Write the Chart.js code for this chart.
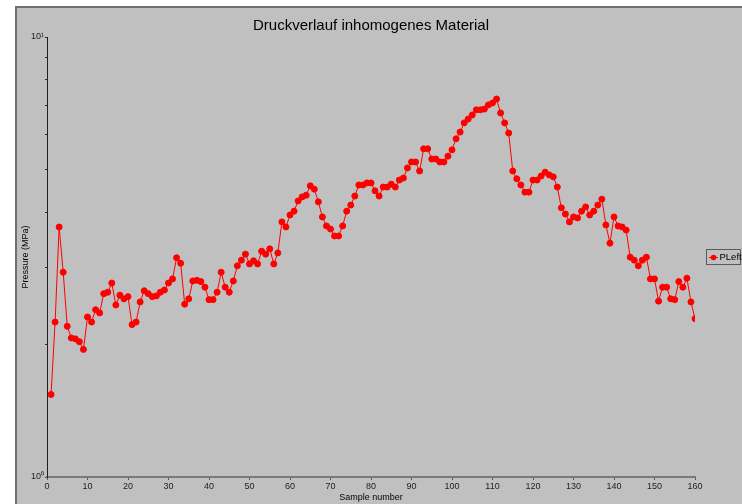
<!DOCTYPE html>
<html>
<head>
<meta charset="utf-8">
<script src="https://cdn.jsdelivr.net/npm/chart.js@4.4.1/dist/chart.umd.min.js"></script>
<style>
html,body{margin:0;padding:0;background:#fff;}
#wrap{width:742px;height:504px;}
</style>
</head>
<body>
<div id="wrap"><canvas id="grafico" width="742" height="504"></canvas></div>
<script>
const titulo = "Druckverlauf inhomogenes Material";
const serieNome = "PLeft";
const eixoX = "Sample number";
const eixoY = "Pressure (MPa)";

// sample numbers 1..160
const amostras = Array.from({length:160}, (_, i) => i + 1);

const pressao = [
1.54,2.25,3.70,2.92,2.20,2.07,2.06,2.03,1.95,2.31,
2.25,2.40,2.36,2.61,2.63,2.76,2.46,2.59,2.54,2.57,
2.22,2.25,2.50,2.65,2.61,2.57,2.58,2.63,2.66,2.76,
2.82,3.15,3.06,2.47,2.54,2.79,2.80,2.78,2.70,2.53,
2.53,2.63,2.92,2.70,2.63,2.79,3.02,3.11,3.21,3.05,
3.10,3.05,3.26,3.21,3.30,3.05,3.23,3.80,3.70,3.94,
4.02,4.24,4.33,4.37,4.59,4.51,4.22,3.90,3.72,3.66,
3.53,3.53,3.72,4.02,4.15,4.35,4.61,4.61,4.66,4.66,
4.47,4.35,4.56,4.56,4.63,4.56,4.73,4.78,5.04,5.20,
5.20,4.96,5.57,5.57,5.28,5.28,5.20,5.20,5.36,5.54,
5.87,6.08,6.38,6.51,6.65,6.83,6.83,6.86,7.01,7.08,
7.23,6.72,6.38,6.05,4.96,4.76,4.61,4.44,4.44,4.73,
4.73,4.83,4.93,4.86,4.81,4.56,4.09,3.96,3.80,3.90,
3.88,4.02,4.11,3.94,4.02,4.15,4.28,3.74,3.40,3.90,
3.72,3.70,3.64,3.16,3.11,3.02,3.11,3.16,2.82,2.82,
2.51,2.70,2.70,2.54,2.53,2.78,2.70,2.83,2.50,2.29
];

const ticksX = [0,10,20,30,40,50,60,70,80,90,100,110,120,130,140,150,160];
const ticksY = [1,2,3,4,5,6,7,8,9,10];

const fonte = "'Liberation Sans', Arial, sans-serif";
const fundo = "#c0c0c0";
const vermelho = "#ff0000";

const pontos = amostras.map((a, i) => ({x: a, y: pressao[i]}));

// fundo, moldura, titulo e legenda
const moldura = {
  id: "moldura",
  beforeDraw(chart){
    const c = chart.ctx;
    c.save();
    c.fillStyle = "#ffffff";
    c.fillRect(0, 0, chart.width, chart.height);
    c.fillStyle = fundo;
    c.fillRect(15, 6, chart.width - 15, chart.height - 6);
    c.fillStyle = "#707070";
    c.fillRect(15, 6, chart.width - 15, 2);
    c.fillRect(15, 6, 2, chart.height - 6);
    c.restore();
  },
  afterDraw(chart){
    const c = chart.ctx;
    c.save();
    c.fillStyle = "#000";
    c.font = "15px " + fonte;
    c.textAlign = "center";
    c.textBaseline = "alphabetic";
    c.fillText(titulo, 371, 29.5);

    // legenda
    c.strokeStyle = "#5a5a5a";
    c.lineWidth = 1;
    c.strokeRect(706.5, 249.5, 34, 15);
    c.strokeStyle = vermelho;
    c.beginPath();
    c.moveTo(709, 257.5);
    c.lineTo(718, 257.5);
    c.stroke();
    c.fillStyle = vermelho;
    c.beginPath();
    c.arc(713.5, 257.5, 2.8, 0, Math.PI * 2);
    c.fill();
    c.fillStyle = "#000";
    c.font = "9.5px " + fonte;
    c.textAlign = "left";
    c.textBaseline = "middle";
    c.fillText(serieNome, 719.5, 257.5);
    c.restore();
  }
};

new Chart(document.getElementById("grafico"), {
  type: "line",
  data: {
    datasets: [{
      label: serieNome,
      data: pontos,
      borderColor: vermelho,
      backgroundColor: vermelho,
      borderWidth: 1,
      pointRadius: 3,
      pointBorderWidth: 1,
      pointBackgroundColor: vermelho,
      pointBorderColor: vermelho,
      tension: 0
    }]
  },
  options: {
    responsive: false,
    animation: false,
    layout: {padding: {left: 0, top: 37, right: 47, bottom: 0}},
    plugins: {
      legend: {display: false},
      title: {display: false},
      tooltip: {enabled: false}
    },
    scales: {
      x: {
        type: "linear",
        min: 0,
        max: 160,
        afterBuildTicks: s => { s.ticks = ticksX.map(v => ({value: v})); },
        afterFit: s => { s.height = 27; },
        border: {color: "#7a7a7a", width: 2},
        grid: {display: true, drawOnChartArea: false, drawTicks: true, tickLength: 3, color: "#555"},
        ticks: {color: "#222", font: {family: fonte, size: 9}, padding: 1, maxRotation: 0, autoSkip: false},
        title: {display: true, text: eixoX, color: "#000", font: {family: fonte, size: 9}, padding: {top: 0, bottom: 1}}
      },
      y: {
        type: "logarithmic",
        min: 1,
        max: 10,
        afterBuildTicks: s => { s.ticks = ticksY.map(v => ({value: v})); },
        afterFit: s => { s.width = 47; },
        border: {color: "#202020", width: 1},
        grid: {display: true, drawOnChartArea: false, drawTicks: true, tickLength: 2, color: "#333"},
        ticks: {
          color: "#222",
          font: {family: fonte, size: 9},
          padding: 1,
          autoSkip: false,
          callback: v => v === 1 ? "10\u2070" : (v === 10 ? "10\u00b9" : "")
        },
        title: {display: true, text: eixoY, color: "#000", font: {family: fonte, size: 9}, padding: {top: 20, bottom: 0}}
      }
    }
  },
  plugins: [moldura]
});
</script>
</body>
</html>
